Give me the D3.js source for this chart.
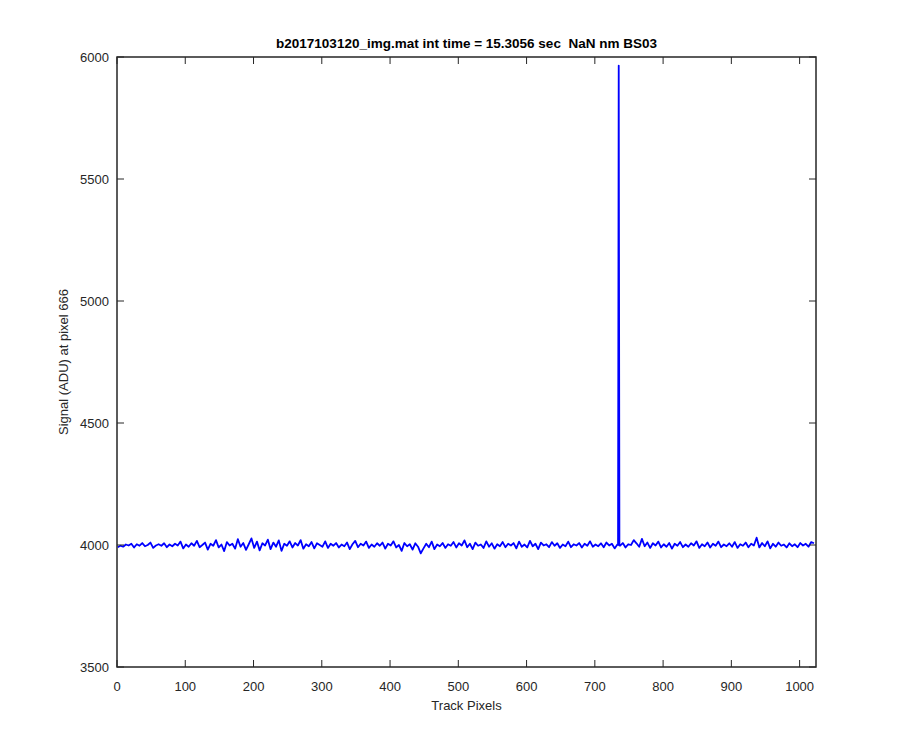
<!DOCTYPE html>
<html>
<head>
<meta charset="utf-8">
<script src="https://cdn.jsdelivr.net/npm/d3@7"></script>
<style>
	body{margin:0;background:#fff;}
	text{font-family:"Liberation Sans",Arial,sans-serif;white-space:pre;}
</style>
</head>
<body>
<svg id="fig" width="900" height="750"></svg>
<script>
// signal, one value every 4 track pixels starting at pixel 1
var step = 4;
var signal = [
	3991,3997,3993,4002,3998,4005,3990,4003,3997,4008,3995,4000,4010,3988,3998,4003,
	3997,4007,3991,4002,3995,4005,3998,4014,3986,4002,3993,4007,3997,4017,3991,4000,
	4010,3981,4005,3997,4020,3990,4002,3975,4012,3998,4005,3985,4024,3993,4008,3980,
	4003,4027,3988,4014,3978,4007,3998,4022,3983,4010,3993,4019,3976,4005,3997,4015,
	3990,4008,3998,4020,3985,4003,3995,4012,3986,4007,4000,3993,4015,3988,4005,3997,
	4008,3990,4002,3995,4010,3983,4003,4017,3991,4005,3998,4014,3988,4002,3993,4007,
	3997,4010,3985,4005,3998,4015,3990,4000,3976,4008,3995,4003,3981,4007,3993,3966,
	3986,4005,3991,4014,3983,4002,3995,4008,3988,4003,3997,4012,3990,4007,3998,4019,
	3991,4005,3983,4010,3997,4002,3988,4015,3993,4007,3985,4003,3995,4012,3991,4005,
	3998,4008,3986,4014,3993,4002,3990,4017,3995,4005,3983,4010,3998,4003,3991,4012,
	3997,4007,3988,4002,3995,4014,3991,4003,3998,4008,3990,4005,3997,4015,3993,4002,
	3995,4007,3991,4010,3998,4005,3986,4002,3997,4008,3990,4003,4000,4020,4007,3993,
	4025,3995,4010,3988,4007,3998,4014,3990,4003,3993,4008,3985,4005,3997,4012,3991,
	4002,3993,4007,3998,4015,3988,4003,3995,4010,3990,4005,3997,4014,3991,4002,3995,
	4007,3993,4012,3988,4003,3997,4010,3991,4005,3998,4030,3990,4008,3995,4015,3986,
	4005,3993,4010,3997,4002,3990,4007,3995,4003,3991,4008,3998,4005,3993,4012,4007
];
// the single hot pixel and its two neighbours
var spikePixel = [734,735,736];
var spikeValue = [4001,5965,3998];

var xTicks = [0,100,200,300,400,500,600,700,800,900,1000];
var yTicks = [3500,4000,4500,5000,5500,6000];
var titulo = "b2017103120_img.mat int time = 15.3056 sec  NaN nm BS03";

function init(){
	var lien = d3.select('#fig');
	var L=117, R=816, T=57, B=667;
	var x = d3.scaleLinear().domain([0,1024]).range([L,R]);
	var y = d3.scaleLinear().domain([3500,6000]).range([B,T]);

	var pts = signal.map(function(v,i){ return {px:1+i*step, v:v}; });
	spikePixel.forEach(function(p,i){ pts.push({px:p, v:spikeValue[i]}); });
	pts.sort(function(a,b){ return a.px-b.px; });

	var ln = d3.line().x(function(d){return x(d.px);}).y(function(d){return y(d.v);});
	lien.append("path")
		.datum(pts)
		.attr("d",ln)
		.attr("fill","none")
		.attr("stroke","#0000ff")
		.attr("stroke-width",1.8)
		.attr("stroke-linejoin","round");

	var col="#262626";
	// ticks, inward on all four sides
	var tl=7;
	xTicks.forEach(function(t){
		lien.append("line").attr("x1",x(t)).attr("x2",x(t)).attr("y1",B).attr("y2",B-tl).attr("stroke",col).attr("stroke-width",1);
		lien.append("line").attr("x1",x(t)).attr("x2",x(t)).attr("y1",T).attr("y2",T+tl).attr("stroke",col).attr("stroke-width",1);
		lien.append("text").attr("x",x(t)).attr("y",B+24).attr("text-anchor","middle")
			.attr("font-size",13).attr("fill",col).text(t);
	});
	yTicks.forEach(function(t){
		lien.append("line").attr("x1",L).attr("x2",L+tl).attr("y1",y(t)).attr("y2",y(t)).attr("stroke",col).attr("stroke-width",1);
		lien.append("line").attr("x1",R).attr("x2",R-tl).attr("y1",y(t)).attr("y2",y(t)).attr("stroke",col).attr("stroke-width",1);
		lien.append("text").attr("x",L-8).attr("y",y(t)+4.5).attr("text-anchor","end")
			.attr("font-size",13).attr("fill",col).text(t);
	});
	lien.append("rect")
		.attr("x",L).attr("y",T).attr("width",R-L).attr("height",B-T)
		.attr("fill","none").attr("stroke",col).attr("stroke-width",1.5);

	lien.append("text").attr("x",(L+R)/2).attr("y",48).attr("text-anchor","middle")
		.attr("font-size",13.5).attr("font-weight","bold").attr("fill","#000").text(titulo);
	lien.append("text").attr("x",(L+R)/2).attr("y",710).attr("text-anchor","middle")
		.attr("font-size",13).attr("fill",col).text("Track Pixels");
	lien.append("text").attr("transform","translate(68,"+((T+B)/2)+") rotate(-90)")
		.attr("text-anchor","middle").attr("font-size",13).attr("fill",col)
		.text("Signal (ADU) at pixel 666");
}
init();
</script>
</body>
</html>
